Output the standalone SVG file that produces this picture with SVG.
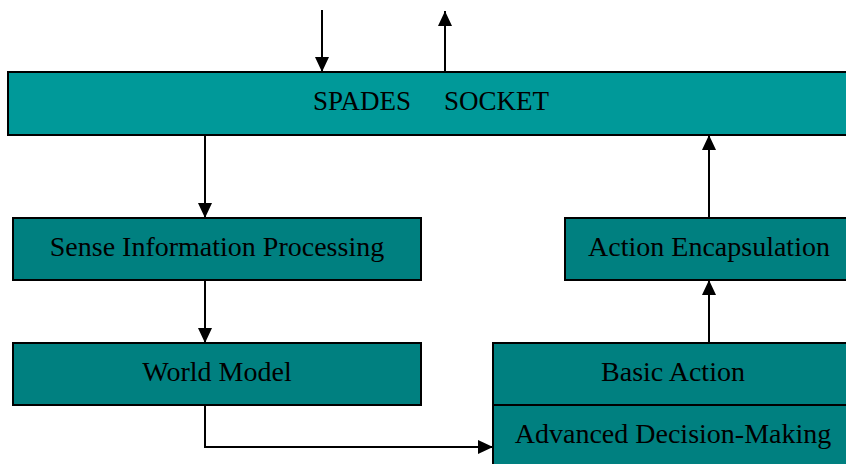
<svg xmlns="http://www.w3.org/2000/svg" width="846" height="464" viewBox="0 0 846 464">
<defs>
<marker id="ah" markerWidth="15" markerHeight="15" refX="15" refY="7.5" viewBox="0 0 15 15" markerUnits="userSpaceOnUse" orient="auto">
<path d="M0,0.5 L15,7.5 L0,14.5 Z" fill="#000"/>
</marker>
<style>
.box{fill:#008080;stroke:#000;stroke-width:2}
.top{fill:#009999;stroke:#000;stroke-width:2}
.t{font-family:"Liberation Serif","Times New Roman",serif;font-size:28px;fill:#000;text-anchor:middle}
.s{font-family:"Liberation Serif","Times New Roman",serif;font-size:27px;fill:#000}
.c{fill:none;stroke:#000;stroke-width:2;marker-end:url(#ah)}
</style>
</defs>
<rect width="846" height="464" fill="#fff"/>
<g id="spades">
<rect class="top" x="8" y="72" width="850" height="63"/>
<text class="s" x="313" y="110">SPADES</text>
<text class="s" x="444" y="110">SOCKET</text>
</g>
<g id="sense">
<rect class="box" x="13" y="218" width="408" height="62"/>
<text class="t" x="217" y="256">Sense Information Processing</text>
</g>
<g id="world">
<rect class="box" x="13" y="343" width="408" height="62"/>
<text class="t" x="217" y="381">World Model</text>
</g>
<g id="encap">
<rect class="box" x="565" y="218" width="290" height="62"/>
<text class="t" x="709" y="256">Action Encapsulation</text>
</g>
<g id="basic">
<rect class="box" x="493" y="343" width="360" height="62"/>
<text class="t" x="673" y="381">Basic Action</text>
</g>
<g id="advanced">
<rect class="box" x="493" y="405" width="360" height="64"/>
<text class="t" x="673" y="443">Advanced Decision-Making</text>
</g>
<g id="connectors">
<path class="c" d="M322,10 V72"/>
<path class="c" d="M445,72 V11"/>
<path class="c" d="M205,135 V218"/>
<path class="c" d="M205,280 V343"/>
<path class="c" d="M205,405 V447 H493"/>
<path class="c" d="M709,343 V280"/>
<path class="c" d="M709,218 V135"/>
</g>
</svg>
